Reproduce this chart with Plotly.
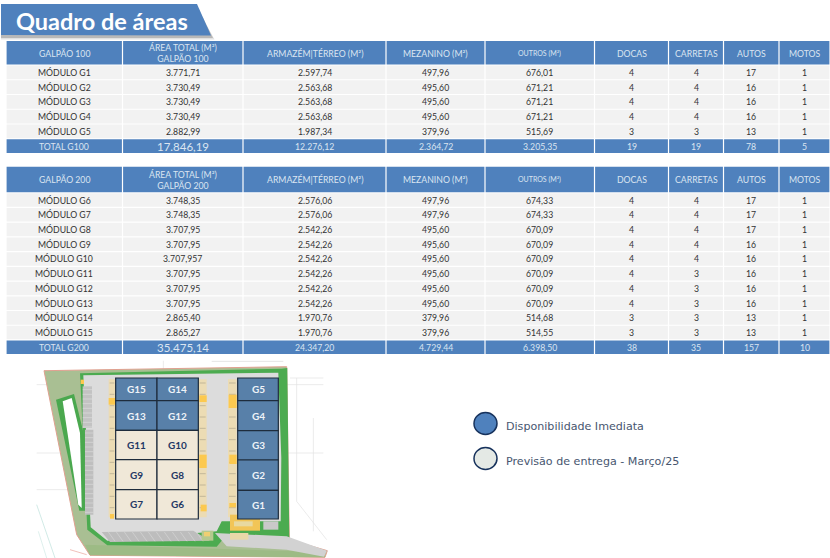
"""Quadro de áreas: two module tables, the site plan and its legend."""

import plotly.graph_objects as go

BLUE = "#4f81bd"
ROW = "#f2f2f2"
HEAD_TEXT = "#dbe5f1"
BODY_TEXT = "#333333"
FONT = "Lato"

COL_EDGES = [6, 122.5, 243, 386, 485, 594.5, 668.5, 723.5, 779, 830]

HEADERS_100 = ["GALPÃO 100", "ÁREA TOTAL (M²)<br>GALPÃO 100", "ARMAZÉM|TÉRREO (M²)", "MEZANINO (M²)",
               "OUTROS (M²)", "DOCAS", "CARRETAS", "AUTOS", "MOTOS"]
MODULO_100 = ["MÓDULO G1", "MÓDULO G2", "MÓDULO G3", "MÓDULO G4", "MÓDULO G5", "TOTAL G100"]
AREA_100 = ["3.771,71", "3.730,49", "3.730,49", "3.730,49", "2.882,99", "17.846,19"]
ARMAZEM_100 = ["2.597,74", "2.563,68", "2.563,68", "2.563,68", "1.987,34", "12.276,12"]
MEZANINO_100 = ["497,96", "495,60", "495,60", "495,60", "379,96", "2.364,72"]
OUTROS_100 = ["676,01", "671,21", "671,21", "671,21", "515,69", "3.205,35"]
DOCAS_100 = ["4", "4", "4", "4", "3", "19"]
CARRETAS_100 = ["4", "4", "4", "4", "3", "19"]
AUTOS_100 = ["17", "16", "16", "16", "13", "78"]
MOTOS_100 = ["1", "1", "1", "1", "1", "5"]

HEADERS_200 = ["GALPÃO 200", "ÁREA TOTAL (M²)<br>GALPÃO 200", "ARMAZÉM|TÉRREO (M²)", "MEZANINO (M²)",
               "OUTROS (M²)", "DOCAS", "CARRETAS", "AUTOS", "MOTOS"]
MODULO_200 = ["MÓDULO G6", "MÓDULO G7", "MÓDULO G8", "MÓDULO G9", "MÓDULO G10", "MÓDULO G11",
              "MÓDULO G12", "MÓDULO G13", "MÓDULO G14", "MÓDULO G15", "TOTAL G200"]
AREA_200 = ["3.748,35", "3.748,35", "3.707,95", "3.707,95", "3.707,957", "3.707,95",
            "3.707,95", "3.707,95", "2.865,40", "2.865,27", "35.475,14"]
ARMAZEM_200 = ["2.576,06", "2.576,06", "2.542,26", "2.542,26", "2.542,26", "2.542,26",
               "2.542,26", "2.542,26", "1.970,76", "1.970,76", "24.347,20"]
MEZANINO_200 = ["497,96", "497,96", "495,60", "495,60", "495,60", "495,60",
                "495,60", "495,60", "379,96", "379,96", "4.729,44"]
OUTROS_200 = ["674,33", "674,33", "670,09", "670,09", "670,09", "670,09",
              "670,09", "670,09", "514,68", "514,55", "6.398,50"]
DOCAS_200 = ["4", "4", "4", "4", "4", "4", "4", "4", "3", "3", "38"]
CARRETAS_200 = ["4", "4", "4", "4", "4", "3", "3", "3", "3", "3", "35"]
AUTOS_200 = ["17", "17", "17", "16", "16", "16", "16", "16", "13", "13", "157"]
MOTOS_200 = ["1", "1", "1", "1", "1", "1", "1", "1", "1", "1", "10"]

COLUMNS_100 = [MODULO_100, AREA_100, ARMAZEM_100, MEZANINO_100, OUTROS_100,
               DOCAS_100, CARRETAS_100, AUTOS_100, MOTOS_100]
COLUMNS_200 = [MODULO_200, AREA_200, ARMAZEM_200, MEZANINO_200, OUTROS_200,
               DOCAS_200, CARRETAS_200, AUTOS_200, MOTOS_200]

BLUE_MODULES = ["G15", "G14", "G13", "G12", "G5", "G4", "G3", "G2", "G1"]
LEGEND_LABELS = ["Disponibilidade Imediata", "Previsão de entrega - Março/25"]

shapes = []
annotations = []


def rect(x0, y0, x1, y1, fill, line=None, width=0):
    shapes.append(dict(type="rect", x0=x0, y0=y0, x1=x1, y1=y1, fillcolor=fill, layer="above",
                       line=dict(color=line or fill, width=width)))


def label(x, y, text, size, color, font=FONT, anchor="center", bold=False):
    annotations.append(dict(x=x, y=y, text=f"<b>{text}</b>" if bold else text, showarrow=False,
                            xanchor=anchor, yanchor="middle", align="center",
                            font=dict(family=font, size=size, color=color)))


def draw_table(top, head_bottom, bottom, headers, columns):
    n_rows = len(columns[0])
    row_h = (bottom - head_bottom) / n_rows
    for c, header in enumerate(headers):
        x0, x1 = COL_EDGES[c], COL_EDGES[c + 1]
        cx = (x0 + x1) / 2
        rect(x0 + 0.6, top, x1 - 0.6, head_bottom - 0.5, BLUE)
        label(cx, (top + head_bottom) / 2, header, 7 if c == 4 else 8.7, HEAD_TEXT)
        for r, value in enumerate(columns[c]):
            y0 = head_bottom + r * row_h
            total = r == n_rows - 1
            rect(x0 + 0.6, y0 + 0.6, x1 - 0.6, y0 + row_h - 0.6, BLUE if total else ROW)
            size = 8.7
            if total and c == 1:
                size = 11.5
            label(cx, y0 + row_h / 2, value, size, HEAD_TEXT if total else BODY_TEXT)


def plan_xy(x, y):
    return 30 + x / 3, 358 + y / 3


def plan_poly(points, fill, line=None, width=0):
    coords = [plan_xy(x, y) for x, y in points]
    path = "M" + " L".join(f"{x:.1f},{y:.1f}" for x, y in coords) + " Z"
    shapes.append(dict(type="path", path=path, fillcolor=fill, layer="above",
                       line=dict(color=line or fill, width=width)))


def plan_rect(x0, y0, x1, y1, fill, line=None, width=0):
    ax, ay = plan_xy(x0, y0)
    bx, by = plan_xy(x1, y1)
    rect(ax, ay, bx, by, fill, line, width)


def plan_line(x0, y0, x1, y1, color="#e2e2e2", width=0.7):
    ax, ay = plan_xy(x0, y0)
    bx, by = plan_xy(x1, y1)
    shapes.append(dict(type="line", x0=ax, y0=ay, x1=bx, y1=by, layer="above",
                       line=dict(color=color, width=width)))


def draw_plan():
    # survey lines around the site
    for seg in ((20, 80, 880, 80), (20, 285, 880, 285), (20, 395, 150, 395), (400, 8, 400, 40),
                (780, 60, 880, 60), (800, 60, 800, 430), (800, 430, 890, 545), (850, 180, 850, 520)):
        plan_line(*seg)
    plan_line(20, 440, 75, 600, "#c5e5df", 0.8)
    plan_line(25, 520, 50, 600, "#d6ece8", 0.8)
    plan_line(120, 575, 170, 590, "#eeb0a8", 0.8)
    plan_line(545, 10, 760, 10, "#dddddd", 0.8)

    # site and lot
    plan_poly([(42, 38), (770, 26), (778, 545), (892, 578), (885, 598), (180, 592), (140, 530)],
              "#a9bf93", "#e0a090", 1)
    plan_poly([(165, 560), (880, 582), (885, 598), (180, 592)], "#9dbb85")
    plan_poly([(150, 46), (755, 32), (772, 30), (778, 545), (575, 548), (560, 566), (232, 562), (172, 515)],
              "#4cab50")
    plan_poly([(160, 52), (745, 44), (754, 300), (752, 490), (575, 490), (560, 520), (232, 548), (182, 508)],
              "#dcdcdc")
    plan_poly([(555, 525), (770, 535), (890, 578), (882, 596), (770, 575), (590, 565)], "#d2d2d2")
    plan_poly([(78, 125), (132, 108), (162, 230), (168, 458), (148, 458)], "#4aa84e")
    plan_poly([(98, 130), (125, 120), (150, 225), (155, 450), (145, 440)], "#ffffff")

    # parking, docks, gatehouse
    plan_poly([(215, 522), (490, 518), (540, 548), (240, 552)], "#bdbdbd")
    for x in range(235, 500, 24):
        plan_line(x, 522, x + 20, 550, "#dedede", 0.5)
    plan_rect(158, 85, 186, 210, "#c3c3c3")
    plan_rect(165, 215, 190, 470, "#bfbfbf")
    for y in range(95, 210, 14):
        plan_line(158, y, 186, y, "#e4e4e4", 0.5)
    for y in range(225, 470, 14):
        plan_line(165, y, 190, y, "#e2e2e2", 0.5)
    for x0, x1 in ((236, 256), (506, 530), (594, 620)):
        plan_rect(x0, 64, x1, 478, "#ecdcb4")
        for y in range(75, 478, 34):
            plan_line(x0 + 3, y, x1 - 3, y, "#a89f88", 0.6)
    for x0, y0, x1, y1 in ((236, 120, 256, 140), (508, 112, 530, 132), (596, 110, 620, 150),
                           (598, 290, 620, 318), (512, 440, 530, 460), (508, 290, 530, 330),
                           (152, 65, 162, 78), (240, 468, 252, 482), (598, 435, 618, 448)):
        plan_rect(x0, y0, x1, y1, "#fcc94f")
    plan_rect(600, 470, 690, 518, "#f2c557")
    plan_rect(612, 490, 668, 505, "#e8d9a0")
    plan_rect(700, 490, 745, 515, "#c9c9c9")
    plan_rect(600, 525, 655, 545, "#ead8a8")
    plan_rect(515, 518, 550, 548, "#b5c98e")
    plan_rect(522, 522, 540, 535, "#efcf72")

    # modules
    for name, x0, y0, x1, y1 in (("G15", 257, 60, 381, 128), ("G14", 381, 60, 505, 128),
                                 ("G13", 257, 128, 381, 217), ("G12", 381, 128, 505, 217),
                                 ("G11", 257, 217, 381, 305), ("G10", 381, 217, 505, 305),
                                 ("G9", 257, 305, 381, 395), ("G8", 381, 305, 505, 395),
                                 ("G7", 257, 395, 381, 483), ("G6", 381, 395, 505, 483),
                                 ("G5", 623, 60, 745, 128), ("G4", 623, 128, 745, 218),
                                 ("G3", 623, 218, 745, 306), ("G2", 623, 306, 745, 397),
                                 ("G1", 623, 397, 745, 483)):
        blue = name in BLUE_MODULES
        plan_rect(x0, y0, x1, y1, "#5880a9" if blue else "#f0e8d8", "#1e2c3c", 1.2)
        cx, cy = plan_xy((x0 + x1) / 2, (y0 + y1) / 2)
        label(cx, cy, name, 10, "#eef3f8" if blue else "#1f3864", bold=True)


# title banner with its soft shadow
for dx, alpha in ((3.5, 0.18), (2, 0.3)):
    shapes.append(dict(type="path", path=f"M1,{6 + dx} L198,{6 + dx} L{211 + dx},{36 + dx} L1,{36 + dx} Z",
                       fillcolor=f"rgba(90,90,90,{alpha})", line=dict(width=0), layer="above"))
shapes.append(dict(type="path", path="M1,4 L197,4 L211,35.5 L1,35 Z", fillcolor=BLUE,
                   line=dict(width=0), layer="above"))
label(13.5, 20.5, "Quadro de áreas", 23.5, "#ffffff", anchor="left", bold=True)

draw_table(41, 65, 153.5, HEADERS_100, COLUMNS_100)
draw_table(166.7, 192.7, 354.7, HEADERS_200, COLUMNS_200)
draw_plan()

# legend
for y, fill, text in ((423.5, "#4f81bd", LEGEND_LABELS[0]), (458.5, "#e4e9e5", LEGEND_LABELS[1])):
    shapes.append(dict(type="circle", x0=474, y0=y - 11, x1=497, y1=y + 11, fillcolor=fill,
                       layer="above", line=dict(color="#17325c", width=1.5)))
    label(504, y + 2.5, text, 11.1, "#47566f", font="DejaVu Sans", anchor="left")

fig = go.Figure()
fig.update_layout(
    width=830, height=558,
    margin=dict(l=0, r=0, t=0, b=0),
    paper_bgcolor="white", plot_bgcolor="white",
    xaxis=dict(range=[0, 830], visible=False, fixedrange=True),
    yaxis=dict(range=[558, 0], visible=False, fixedrange=True),
    shapes=shapes, annotations=annotations, showlegend=False,
)

fig.write_html("out.html", config=dict(displayModeBar=False),
               post_script="document.body.style.margin='0';")
